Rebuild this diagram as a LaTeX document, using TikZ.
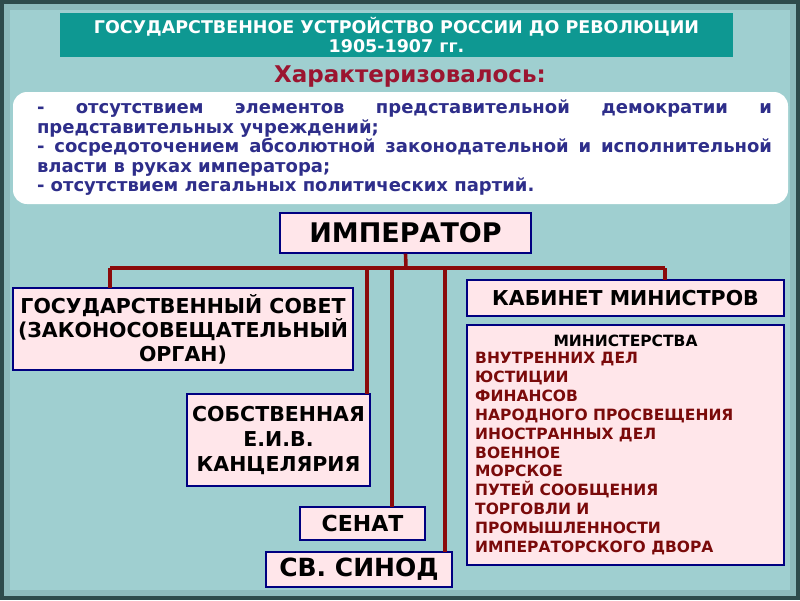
\documentclass[tikz,border=0pt]{standalone}
\usepackage{fontspec}
\setmainfont{DejaVu Sans}
\begin{document}
\begin{tikzpicture}[x=1pt,y=-1pt,
  pbox/.style={draw=blue!50!black,line width=1.2pt,fill=pinkbg,font=\bfseries,align=center,inner sep=0pt},
  con/.style={draw=conred,line width=3.6pt}]
\definecolor{bgteal}{HTML}{9FCFD0}
\definecolor{dark}{HTML}{2E4B4B}
\definecolor{titleteal}{HTML}{0E9892}
\definecolor{redt}{HTML}{9B1530}
\definecolor{bluet}{HTML}{2E2E8A}
\definecolor{pinkbg}{HTML}{FFE6EA}
\definecolor{conred}{HTML}{8B0A0A}
\definecolor{minred}{HTML}{7A0A0A}
\useasboundingbox (0,0) rectangle (800,600);
\fill[dark] (0,0) rectangle (800,600);
\fill[bgteal!85!dark] (4,4) rectangle (796,596);
\fill[bgteal] (10,10) rectangle (790,590);
% title
\node[fill=titleteal,minimum width=673,minimum height=44,inner sep=0pt,text=white,font=\bfseries\fontsize{17.5}{19}\selectfont,align=center] (title) at (396.5,35) {ГОСУДАРСТВЕННОЕ УСТРОЙСТВО РОССИИ ДО РЕВОЛЮЦИИ\\1905-1907 гг.};
\node[text=redt,font=\bfseries\fontsize{23}{26}\selectfont] (char) at (410,77) {Характеризовалось:};
\node[fill=white,rounded corners=14pt,minimum width=775,minimum height=112,inner sep=0pt] (wbox) at (400.5,148) {};
\node[text=bluet,font=\bfseries\fontsize{18}{19.5}\selectfont,text width=735,align=justify,inner sep=0pt] (list) at (404.5,148) {- отсутствием элементов представительной демократии и представительных учреждений;\\
- сосредоточением абсолютной законодательной и исполнительной власти в руках императора;\\
\raggedright - отсутствием легальных политических партий.};
% boxes
\node[pbox,minimum width=251,minimum height=40,font=\bfseries\fontsize{27}{30}\selectfont] (imp) at (405.5,233) {ИМПЕРАТОР};
\node[pbox,minimum width=340,minimum height=82,font=\bfseries\fontsize{20.5}{24}\selectfont] (gs) at (183,329) {ГОСУДАРСТВЕННЫЙ СОВЕТ\\(ЗАКОНОСОВЕЩАТЕЛЬНЫЙ\\ОРГАН)};
\node[pbox,minimum width=317,minimum height=36,font=\bfseries\fontsize{20.5}{24}\selectfont] (kab) at (625.5,298) {КАБИНЕТ МИНИСТРОВ};
\node[pbox,minimum width=317,minimum height=240] (min) at (625.5,445) {};
\node[font=\bfseries\fontsize{15.5}{17}\selectfont] (minh) at (625.5,341) {МИНИСТЕРСТВА};
\node[anchor=north west,text=minred,font=\bfseries\fontsize{15.5}{18.9}\selectfont,align=left,inner sep=0pt] (minl) at (475,352) {ВНУТРЕННИХ ДЕЛ\\ЮСТИЦИИ\\ФИНАНСОВ\\НАРОДНОГО ПРОСВЕЩЕНИЯ\\ИНОСТРАННЫХ ДЕЛ\\ВОЕННОЕ\\МОРСКОЕ\\ПУТЕЙ СООБЩЕНИЯ\\ТОРГОВЛИ И\\ПРОМЫШЛЕННОСТИ\\ИМПЕРАТОРСКОГО ДВОРА};
\node[pbox,minimum width=183,minimum height=92,font=\bfseries\fontsize{20.5}{25}\selectfont] (sob) at (278.5,440) {СОБСТВЕННАЯ\\Е.И.В.\\КАНЦЕЛЯРИЯ};
\node[pbox,minimum width=125,minimum height=33,font=\bfseries\fontsize{22}{24}\selectfont] (sen) at (362.5,523.5) {СЕНАТ};
\node[pbox,minimum width=186,minimum height=35,font=\bfseries\fontsize{25}{28}\selectfont] (sin) at (359,569.5) {СВ. СИНОД};
% connectors
\coordinate (j) at (406,268);
\coordinate (l) at (110,268);
\coordinate (r) at (665,268);
\draw[con] (imp.south) -- (j);
\draw[con] (l) -- (r);
\draw[con] (l) -- (110,288);
\draw[con] (367,268) -- (367,394);
\draw[con] (392,268) -- (392,507);
\draw[con] (445,268) -- (445,552);
\draw[con] (r) -- (665,280);
\end{tikzpicture}
\end{document}
